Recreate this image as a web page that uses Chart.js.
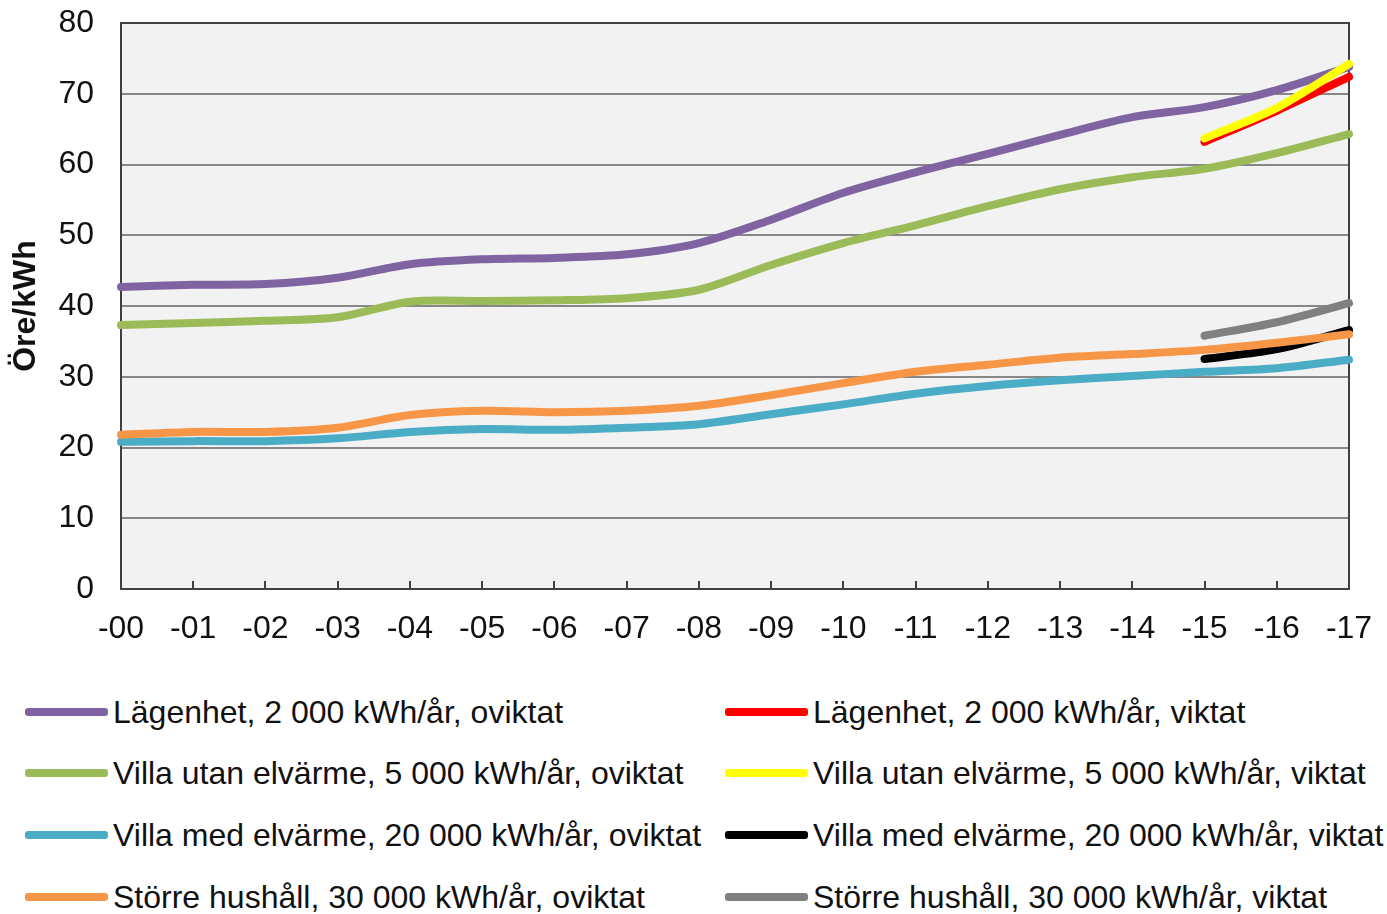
<!DOCTYPE html>
<html>
<head>
    <meta charset="utf-8">
    <title>Elpriser hushåll</title>
    <script src="https://cdn.jsdelivr.net/npm/chart.js@4/dist/chart.umd.min.js"></script>
    <style>
        html, body {
            margin: 0;
            padding: 0;
            background: #fff;
        }
        #wrap {
            position: relative;
            width: 1387px;
            height: 914px;
        }
        canvas {
            position: absolute;
            left: 0;
            top: 0;
        }
        .item {
            position: absolute;
            display: flex;
            align-items: center;
            font-family: "Liberation Sans", Arial, sans-serif;
            font-size: 32px;
            color: #111;
            white-space: nowrap;
        }
        .item span.sw {
            display: inline-block;
            width: 83px;
            height: 8px;
            border-radius: 3px;
            margin-right: 5px;
        }
    </style>
</head>
<body>
<div id="wrap">
    <canvas id="chart" width="1387" height="660"></canvas>
    <div id="legend"></div>
</div>
<script>
    // years, shown as -00 .. -17
    const years = ['-00', '-01', '-02', '-03', '-04', '-05', '-06', '-07', '-08',
        '-09', '-10', '-11', '-12', '-13', '-14', '-15', '-16', '-17'];

    // öre/kWh, oviktat
    const lagenhet = [42.7, 43.0, 43.1, 44.0, 45.9, 46.6, 46.8, 47.3, 48.9,
        52.2, 56.0, 58.9, 61.5, 64.2, 66.7, 68.1, 70.5, 73.8];
    const villaUtan = [37.3, 37.6, 37.9, 38.4, 40.6, 40.7, 40.8, 41.1, 42.3,
        45.8, 48.9, 51.4, 54.1, 56.5, 58.2, 59.4, 61.6, 64.3];
    const villaMed = [20.8, 20.9, 20.9, 21.3, 22.2, 22.6, 22.5, 22.8, 23.3,
        24.7, 26.1, 27.6, 28.7, 29.5, 30.1, 30.7, 31.2, 32.4];
    const storre = [21.8, 22.2, 22.2, 22.8, 24.6, 25.2, 25.0, 25.2, 25.9,
        27.4, 29.1, 30.7, 31.7, 32.7, 33.2, 33.8, 34.8, 36.0];

    // öre/kWh, viktat (only -15 .. -17)
    const gap = Array(15).fill(null);
    const lagenhetV = gap.concat([63.2, 67.6, 72.4]);
    const villaUtanV = gap.concat([63.7, 68.0, 74.2]);
    const villaMedV = gap.concat([32.5, 33.9, 36.6]);
    const storreV = gap.concat([35.8, 37.7, 40.4]);

    const yTicks = [0, 10, 20, 30, 40, 50, 60, 70, 80];

    const FONT = '"Liberation Sans", Arial, sans-serif';

    function ds(label, data, color, order) {
        return {
            label: label,
            data: data,
            borderColor: color,
            backgroundColor: color,
            borderWidth: 8,
            borderCapStyle: 'round',
            borderJoinStyle: 'round',
            pointRadius: 0,
            tension: 0.3,
            fill: false,
            order: order
        };
    }

    // legend: left column oviktat, right column viktat
    const datasets = [
        ds('Lägenhet, 2 000 kWh/år, oviktat', lagenhet, '#8064A2', 7),
        ds('Villa utan elvärme, 5 000 kWh/år, oviktat', villaUtan, '#9BBB59', 6),
        ds('Villa med elvärme, 20 000 kWh/år, oviktat', villaMed, '#4BACC6', 5),
        ds('Större hushåll, 30 000 kWh/år, oviktat', storre, '#F79646', 1),
        ds('Lägenhet, 2 000 kWh/år, viktat', lagenhetV, '#FF0000', 4),
        ds('Villa utan elvärme, 5 000 kWh/år, viktat', villaUtanV, '#FFFF00', 3),
        ds('Villa med elvärme, 20 000 kWh/år, viktat', villaMedV, '#000000', 8),
        ds('Större hushåll, 30 000 kWh/år, viktat', storreV, '#808080', 2)
    ];

    // plot background, frame and inward x ticks
    const plotFrame = {
        id: 'plotFrame',
        beforeDraw(chart) {
            const a = chart.chartArea, c = chart.ctx;
            c.save();
            c.fillStyle = '#f2f2f2';
            c.fillRect(a.left, a.top, a.right - a.left, a.bottom - a.top);
            c.restore();
        },
        beforeDatasetsDraw(chart) {
            const a = chart.chartArea, c = chart.ctx;
            const x = chart.scales.x;
            c.save();
            c.strokeStyle = '#404040';
            c.lineWidth = 2;
            c.strokeRect(a.left, a.top, a.right - a.left, a.bottom - a.top);
            c.beginPath();
            for (let i = 0; i < years.length; i++) {
                const px = Math.round(x.getPixelForTick(i));
                c.moveTo(px, a.bottom);
                c.lineTo(px, a.bottom - 8);
            }
            c.stroke();
            c.restore();
        }
    };

    const ctx = document.getElementById('chart').getContext('2d');
    const chart = new Chart(ctx, {
        type: 'line',
        data: {labels: years, datasets: datasets},
        plugins: [plotFrame],
        options: {
            responsive: false,
            animation: false,
            layout: {padding: {left: 0, top: 23, right: 38, bottom: 0}},
            plugins: {
                legend: {display: false},
                tooltip: {enabled: false}
            },
            scales: {
                x: {
                    type: 'category',
                    offset: false,
                    grid: {display: false, drawTicks: false},
                    border: {display: true, color: '#404040', width: 2},
                    ticks: {
                        color: '#111',
                        padding: 21,
                        maxRotation: 0,
                        autoSkip: false,
                        font: {family: FONT, size: 32}
                    },
                    afterFit(scale) {
                        scale.height = 71;
                        scale.paddingLeft = 0;
                        scale.paddingRight = 0;
                    }
                },
                y: {
                    min: 0,
                    max: 80,
                    afterBuildTicks(scale) { scale.ticks = yTicks.map(v => ({value: v})); },
                    grid: {color: '#878787', lineWidth: 2, drawTicks: false},
                    border: {display: true, color: '#404040', width: 2},
                    ticks: {
                        color: '#111',
                        padding: 27,
                        font: {family: FONT, size: 32}
                    },
                    title: {
                        display: true,
                        text: 'Öre/kWh',
                        color: '#111',
                        padding: {top: 7, bottom: 0},
                        font: {family: FONT, size: 32, weight: 'bold'}
                    },
                    afterFit(scale) {
                        scale.width = 121;
                        scale.paddingTop = 0;
                        scale.paddingBottom = 0;
                    }
                }
            }
        }
    });

    // html legend, two columns of four
    const legend = document.getElementById('legend');
    const rowY = [712, 773, 835, 897];
    const colX = [25, 725];
    chart.data.datasets.forEach(function (d, i) {
        const el = document.createElement('div');
        el.className = 'item';
        el.style.left = colX[Math.floor(i / 4)] + 'px';
        el.style.top = (rowY[i % 4] - 20) + 'px';
        el.style.height = '40px';
        el.innerHTML = '<span class="sw" style="background:' + d.borderColor + '"></span>' + d.label;
        legend.appendChild(el);
    });
</script>
</body>
</html>
